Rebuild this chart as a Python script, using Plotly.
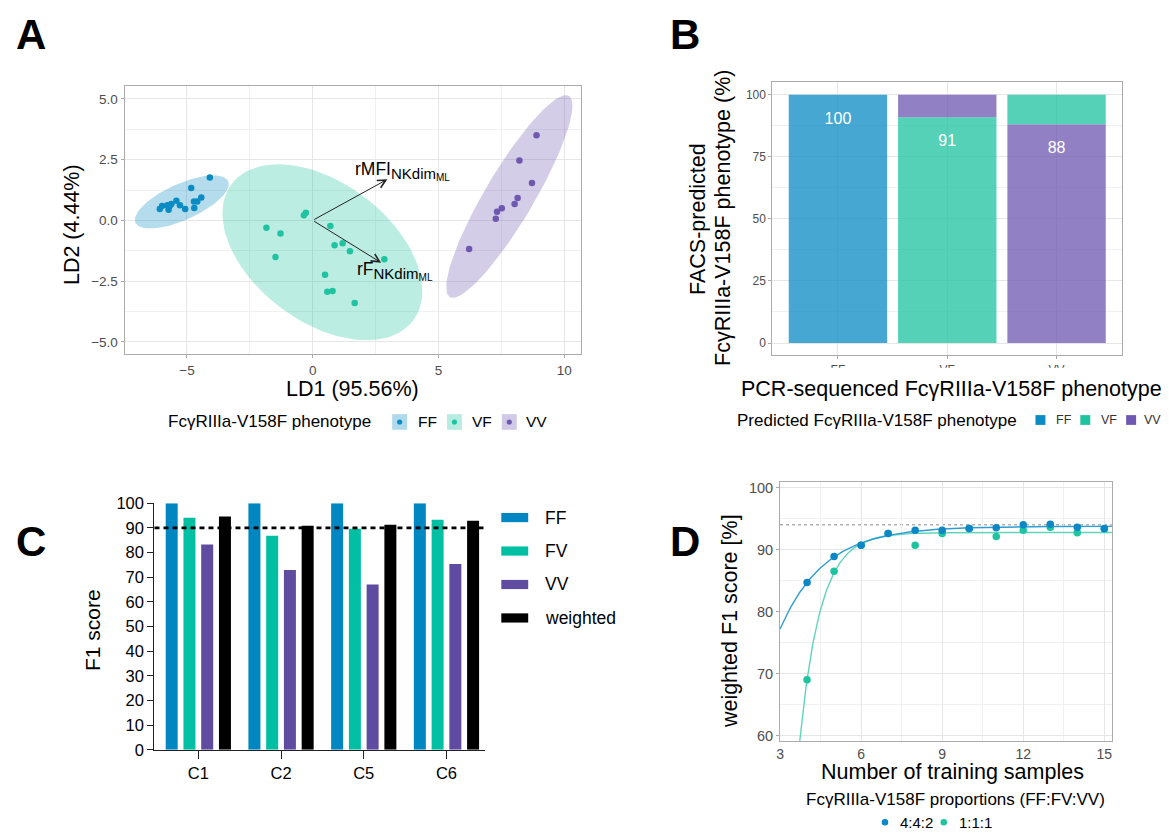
import numpy as np
import plotly.graph_objects as go

W, H = 1169, 840
def px(x): return x / W
def py(y): return 1 - y / H

# ---------------- Panel A data (LDA scores) ----------------
ff_ld1 = [-4.09, -4.83, -4.43, -4.59, -4.72, -4.71, -5.07, -5.28, -5.42, -5.62, -5.69, -5.78, -5.73, -5.99, -6.08]
ff_ld2 = [1.77, 1.33, 0.94, 0.78, 0.78, 0.51, 0.47, 0.62, 0.81, 0.67, 0.59, 0.62, 0.44, 0.59, 0.47]
vf_ld1 = [-0.27, -0.35, -1.84, -1.28, -1.48, 0.70, 0.87, 1.19, 1.48, 2.85, 0.49, 0.58, 0.79, 1.67]
vf_ld2 = [0.31, 0.21, -0.30, -0.54, -1.51, -0.23, -1.02, -0.94, -1.27, -1.60, -2.24, -2.94, -2.91, -3.40]
vv_ld1 = [8.90, 8.22, 8.72, 8.15, 8.03, 7.52, 7.33, 7.28, 6.22]
vv_ld2 = [3.50, 2.47, 1.54, 0.92, 0.67, 0.50, 0.35, 0.07, -1.18]
load_names = ["rMFI<sub><span style='font-size:15px'>NKdim</span><sub><span style='font-size:10px'>ML</span></sub></sub>",
              "rF<sub><span style='font-size:15px'>NKdim</span><sub><span style='font-size:10px'>ML</span></sub></sub>"]
load_ld1 = [2.97, 2.72]
load_ld2 = [1.69, -1.74]
label_scale = 1.2
ellipse_level = 0.99

# ---------------- Panel B data ----------------
seq_pheno = ["FF", "VF", "VV"]
pred_pct = {"FF": [100, 0, 0], "VF": [0, 91, 12], "VV": [0, 9, 88]}

# ---------------- Panel C data ----------------
clusters = ["C1", "C2", "C5", "C6"]
f1_series = ["FF", "FV", "VV", "weighted"]
f1_FF = [100, 100, 100, 100]
f1_FV = [94.1, 86.8, 89.6, 93.3]
f1_VV = [83.3, 72.9, 67.0, 75.3]
f1_weighted = [94.6, 90.9, 91.3, 92.9]
f1_threshold = 90

# ---------------- Panel D data ----------------
n_train = [4, 5, 6, 7, 8, 9, 10, 11, 12, 13, 14, 15]
f1_442 = [84.7, 88.9, 90.7, 92.6, 93.1, 93.1, 93.4, 93.5, 94.0, 94.1, 93.6, 93.4]
f1_111 = [69.0, 86.5, 90.7, 92.6, 90.7, 92.6, 93.4, 92.1, 93.1, 93.6, 92.7, 93.3]
ref_f1 = 94.0

FONT = "Liberation Sans, Arial, sans-serif"
colA = {"FF": "#0a8bc4", "VF": "#1fc3a0", "VV": "#6f58b0"}
colC = {"FF": "#0087c1", "FV": "#00bfa2", "VV": "#5f4b9f", "weighted": "#000000"}
colD = {"4:4:2": "#0a87c4", "1:1:1": "#1ec4a0"}
lineD = {"4:4:2": "#2e9dd4", "1:1:1": "#62d4ba"}

def rgba(hx, a):
    h = hx.lstrip('#')
    return "rgba(%d,%d,%d,%.3f)" % (int(h[0:2], 16), int(h[2:4], 16), int(h[4:6], 16), a)

# ---- normal-theory confidence ellipse (chi-square radius) ----
def ellipse(xs, ys, level=0.99, seg=100):
    X = np.column_stack([xs, ys])
    center = X.mean(axis=0)
    cov = np.cov(X, rowvar=False)
    r = np.sqrt(-2 * np.log(1 - level))
    L = np.linalg.cholesky(cov)
    t = np.linspace(0, 2 * np.pi, seg + 1)
    circ = np.column_stack([np.cos(t), np.sin(t)])
    pts = center + r * (circ @ L.T)
    return pts[:, 0], pts[:, 1]

fig = go.Figure()

# ================= Panel A =================
groupsA = [("FF", ff_ld1, ff_ld2), ("VF", vf_ld1, vf_ld2), ("VV", vv_ld1, vv_ld2)]
for g, xs, ys in groupsA:
    ex, ey = ellipse(xs, ys, ellipse_level)
    fig.add_trace(go.Scatter(x=ex, y=ey, mode='lines', fill='toself',
                             fillcolor=rgba(colA[g], 0.3), line=dict(width=0),
                             xaxis='x', yaxis='y', hoverinfo='skip', showlegend=False))
for g, xs, ys in groupsA:
    fig.add_trace(go.Scatter(x=xs, y=ys, mode='markers', name=g,
                             marker=dict(color=colA[g], size=6.5),
                             xaxis='x', yaxis='y', showlegend=False))

annotations = []
shapes = []
for nm, lx, ly in zip(load_names, load_ld1, load_ld2):
    annotations.append(dict(x=lx, y=ly, ax=0, ay=0, xref='x', yref='y', axref='x', ayref='y',
                            text='', showarrow=True, arrowhead=5, arrowsize=1.6, arrowwidth=1,
                            arrowcolor='#222222', standoff=0, startstandoff=0))
    annotations.append(dict(x=lx * label_scale, y=ly * label_scale, xref='x', yref='y',
                            text=nm, showarrow=False, xanchor='center', yanchor='middle',
                            font=dict(size=17.5, color='black', family=FONT)))

# ================= Panel B =================
bases = {k: [0] * len(seq_pheno) for k in pred_pct}
for j, s in enumerate(seq_pheno):
    order = [s] + [k for k in pred_pct if k != s]
    cum = 0
    for k in order:
        bases[k][j] = cum
        cum += pred_pct[k][j]
for k in pred_pct:
    fig.add_trace(go.Bar(x=seq_pheno, y=pred_pct[k], base=bases[k], width=0.9, offset=-0.45,
                         marker=dict(color=rgba(colA[k], 0.76), line=dict(width=0)),
                         name=k, xaxis='x2', yaxis='y2', showlegend=False))
correct = [pred_pct[s][j] for j, s in enumerate(seq_pheno)]
fig.add_trace(go.Scatter(x=seq_pheno, y=[v - 10 for v in correct], mode='text',
                         text=[str(v) for v in correct],
                         textfont=dict(color='white', size=16, family=FONT),
                         xaxis='x2', yaxis='y2', showlegend=False, hoverinfo='skip'))

# ================= Panel C =================
f1_vals = [f1_FF, f1_FV, f1_VV, f1_weighted]
bar_w, pitch = 0.145, 0.2146
for k, (nm, vals) in enumerate(zip(f1_series, f1_vals)):
    off = -(pitch * 3 + bar_w) / 2 + k * pitch
    fig.add_trace(go.Bar(x=clusters, y=vals, width=bar_w, offset=off,
                         marker=dict(color=colC[nm], line=dict(width=0)),
                         name=nm, xaxis='x3', yaxis='y3', showlegend=False))
shapes.append(dict(type='line', xref='x3 domain', yref='y3', x0=0, x1=1, y0=f1_threshold, y1=f1_threshold,
                   line=dict(color='black', width=2.6, dash='5px,4px'), layer='above'))

# ================= Panel D =================
def fit_asymp(x, y):
    x = np.asarray(x, float); y = np.asarray(y, float)
    best = None
    for c in np.linspace(0.05, 3.0, 2951):
        e = np.exp(-c * x)
        A = np.column_stack([np.ones_like(x), -e])
        coef = np.linalg.lstsq(A, y, rcond=None)[0]
        sse = float(((A @ coef - y) ** 2).sum())
        if best is None or sse < best[0]:
            best = (sse, coef[0], coef[1], c)
    return best[1:]

xx = np.linspace(3, 15.3, 400)
for nm, vals in [("1:1:1", f1_111), ("4:4:2", f1_442)]:
    a, b, c = fit_asymp(n_train, vals)
    fig.add_trace(go.Scatter(x=xx, y=a - b * np.exp(-c * xx), mode='lines',
                             line=dict(color=lineD[nm], width=1.4), xaxis='x4', yaxis='y4',
                             showlegend=False, hoverinfo='skip'))
for nm, vals in [("1:1:1", f1_111), ("4:4:2", f1_442)]:
    fig.add_trace(go.Scatter(x=n_train, y=vals, mode='markers', name=nm,
                             marker=dict(color=colD[nm], size=7.5),
                             xaxis='x4', yaxis='y4', showlegend=False))
shapes.append(dict(type='line', xref='x4 domain', yref='y4', x0=0, x1=1, y0=ref_f1, y1=ref_f1,
                   line=dict(color='#b0b0b0', width=1.3, dash='dot'), layer='below'))

# ================= text / manual legends =================
def txt(x, y, s, size, color='black', xanchor='center', yanchor='middle', angle=0, bold=False):
    annotations.append(dict(x=px(x), y=py(y), xref='paper', yref='paper', text=("<b>%s</b>" % s) if bold else s,
                            showarrow=False, xanchor=xanchor, yanchor=yanchor, textangle=angle,
                            font=dict(size=size, color=color, family=FONT)))

def rect(x0, y0, x1, y1, fill):
    shapes.append(dict(type='rect', xref='paper', yref='paper', x0=px(x0), x1=px(x1), y0=py(y1), y1=py(y0),
                       fillcolor=fill, line=dict(width=0), layer='above'))

def dot(cx, cy, r, fill):
    shapes.append(dict(type='circle', xref='paper', yref='paper', x0=px(cx - r), x1=px(cx + r),
                       y0=py(cy + r), y1=py(cy - r), fillcolor=fill, line=dict(width=0), layer='above'))

# panel letters
for L, (x, y) in {"A": (27, 26), "B": (683, 26), "C": (27, 544), "D": (683, 544)}.items():
    txt(x, y, L, 42, bold=True)

# A titles + legend
txt(350, 388, "LD1 (95.56%)", 21.5)
txt(69, 220, "LD2 (4.44%)", 21.5, angle=-90)
txt(163, 422, "FcγRIIIa-V158F phenotype", 17, xanchor='left')
for (g, kx, tx) in [("FF", 397, 413), ("VF", 452, 468), ("VV", 507, 522)]:
    rect(kx - 7.5, 414, kx + 7.5, 430, rgba(colA[g], 0.32))
    dot(kx, 422, 2.6, colA[g])
    txt(tx, 422, g, 15.5, xanchor='left')

# B titles + legend
txt(951, 388, "PCR-sequenced FcγRIIIa-V158F phenotype", 21.5)
txt(697, 215, "FACS-predicted", 21.5, angle=-90)
txt(722, 214, "FcγRIIIa-V158F phenotype (%)", 21.5, angle=-90)
rect(760, 366.5, 1135, 377, 'white')
txt(734, 421, "Predicted FcγRIIIa-V158F phenotype", 17, xanchor='left')
for (g, kx, tx) in [("FF", 1040, 1054), ("VF", 1085, 1099), ("VV", 1131, 1142)]:
    rect(kx - 5, 415, kx + 5, 425, colA[g])
    txt(tx, 420, g, 12.5, color='#333333', xanchor='left')

# C titles + legend
txt(89, 635, "F1 score", 21, angle=-90)
for i, nm in enumerate(f1_series):
    cy = 519.7 + i * 34.2
    rect(499, cy - 4.7, 526, cy + 4.7, colC[nm])
    txt(541, cy, nm, 17.5, xanchor='left')

# D titles + legend
txt(952, 780, "Number of training samples", 21.5)
txt(728, 626, "weighted F1 score [%]", 21.5, angle=-90)
txt(955, 808, "FcγRIIIa-V158F proportions (FF:FV:VV)", 17)
for (nm, kx, tx) in [("4:4:2", 884, 897), ("1:1:1", 943, 956)]:
    dot(kx, 831, 3.3, colD[nm])
    txt(tx, 831, nm, 15, xanchor='left')

# ================= axes =================
GG = dict(showline=True, mirror=True, linecolor='#ababab', linewidth=1,
          showgrid=True, gridcolor='#e6e6e6', gridwidth=1, zeroline=False,
          ticks='outside', ticklen=3, tickcolor='#ababab', tickwidth=1)
GP = dict(showline=True, mirror=False, linecolor='#222222', linewidth=1.4, showgrid=False, zeroline=False,
          ticks='outside', tickcolor='#222222', tickwidth=1.4)
GGx4 = dict(GG)
GGx4.update(ticks='', ticklen=0)

fig.update_layout(
    width=W, height=H, margin=dict(l=0, r=0, t=0, b=0), autosize=False,
    paper_bgcolor='white', plot_bgcolor='white', showlegend=False,
    font=dict(family=FONT, color='black'), barmode='overlay',
    annotations=annotations, shapes=shapes,
    xaxis=dict(domain=[px(121), px(579)], range=[-7.48, 10.67], tickvals=[-5, 0, 5, 10], anchor='y',
               minor=dict(dtick=2.5, tick0=0, showgrid=True, gridcolor='#f0f0f0', ticks=''),
               tickfont=dict(size=13.5, color='#4d4d4d'), **GG),
    yaxis=dict(domain=[py(353), py(79)], range=[-5.52, 5.52], tickvals=[-5, -2.5, 0, 2.5, 5], tickformat='.1f',
               anchor='x', minor=dict(dtick=1.25, tick0=0, showgrid=True, gridcolor='#f0f0f0', ticks=''),
               tickfont=dict(size=13.5, color='#4d4d4d'), **GG),
    xaxis2=dict(domain=[px(771), px(1122)], range=[-0.6, 2.6], type='category', anchor='y2',
                tickfont=dict(size=12, color='#4d4d4d'), **GG),
    yaxis2=dict(domain=[py(354), py(75)], range=[-5, 105], tickvals=[0, 25, 50, 75, 100], anchor='x2',
                minor=dict(dtick=12.5, tick0=0, showgrid=True, gridcolor='#f0f0f0', ticks=''),
                tickfont=dict(size=12, color='#4d4d4d'), **GG),
    xaxis3=dict(domain=[px(151), px(483)], range=[-0.53, 3.47], type='category', anchor='y3',
                ticklen=8, tickfont=dict(size=16.5, color='black'), **GP),
    yaxis3=dict(domain=[py(757), py(505)], range=[0, 100.01], dtick=10, tick0=0, anchor='x3',
                ticklen=6, tickfont=dict(size=16.5, color='black'), **GP),
    xaxis4=dict(domain=[px(778.7), px(1111.7)], range=[3, 15.28], tickvals=[3, 6, 9, 12, 15], anchor='y4',
                minor=dict(dtick=1.5, tick0=3, showgrid=True, gridcolor='#f0f0f0', ticks=''),
                tickfont=dict(size=14, color='#4d4d4d'), **GGx4),
    yaxis4=dict(domain=[py(748.3), py(483.3)], range=[59.1, 100.9], tickvals=[60, 70, 80, 90, 100], anchor='x4',
                minor=dict(dtick=5, tick0=60, showgrid=True, gridcolor='#f0f0f0', ticks=''),
                tickfont=dict(size=14.5, color='#4d4d4d'), **GG),
)

fig.write_html("out.html", config={'displayModeBar': False},
               post_script="document.body.style.margin='0';document.body.style.overflow='hidden';")
